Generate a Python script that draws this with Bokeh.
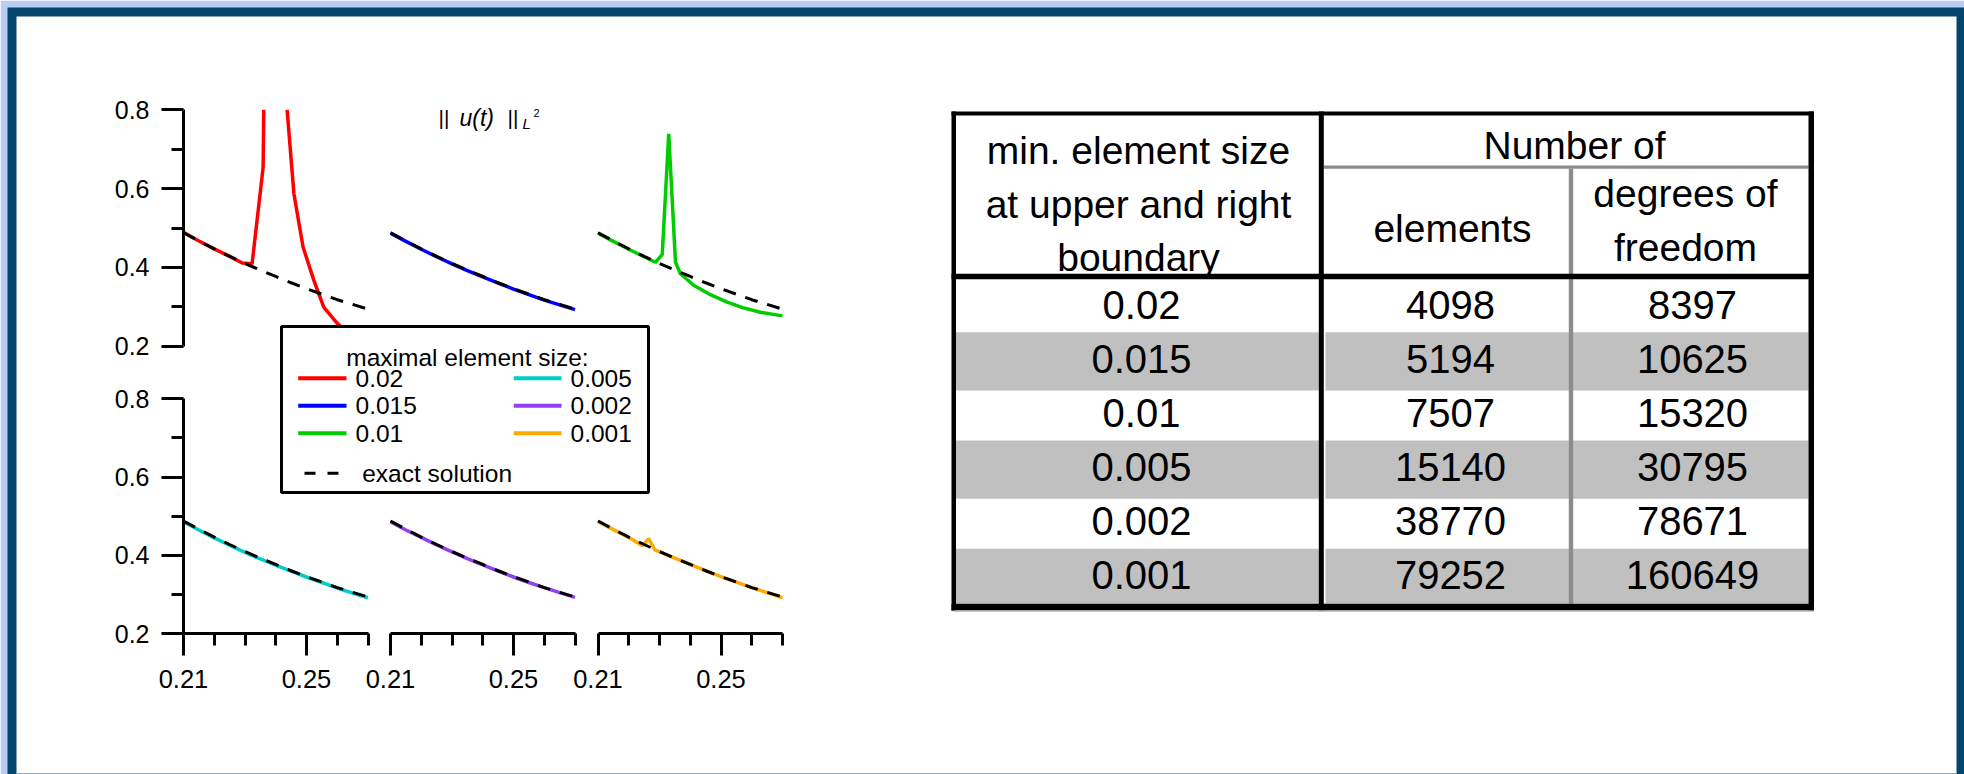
import math
from bokeh.plotting import figure
from bokeh.models import Range1d, LinearAxis, FixedTicker, BasicTickFormatter
from bokeh.core.properties import value
from bokeh.embed import file_html
from bokeh.resources import INLINE

NaN = float("nan")

# ------------------------------------------------------------------ data
# time axis of the exact solution and of the smooth numerical runs
t_exact = [0.21, 0.215, 0.22, 0.225, 0.23, 0.235, 0.24, 0.245, 0.25, 0.255, 0.26, 0.265, 0.27]
u_exact = [0.488, 0.467, 0.447, 0.428, 0.410, 0.393, 0.377, 0.361, 0.346, 0.332, 0.318, 0.306, 0.294]

# maximal element size 0.02 (spike leaves the plotted range above 0.8)
t_h020 = [0.21, 0.215, 0.22, 0.225, 0.2291, 0.2323, 0.2359, 0.2361, 0.240, 0.2437, 0.2459,
          0.2489, 0.2524, 0.2556, 0.2600, 0.265, 0.27]
u_h020 = [0.489, 0.467, 0.447, 0.428, 0.411, 0.409, 0.654, 0.800, NaN, 0.800, 0.587,
          0.451, 0.367, 0.299, 0.258, 0.225, 0.205]
# 0.015
t_h015 = [0.21, 0.215, 0.22, 0.225, 0.23, 0.235, 0.24, 0.245, 0.25, 0.255, 0.26, 0.265, 0.27]
u_h015 = [0.487, 0.466, 0.446, 0.427, 0.409, 0.392, 0.376, 0.360, 0.345, 0.331, 0.317, 0.305, 0.293]
# 0.01
t_h010 = [0.21, 0.215, 0.22, 0.225, 0.2287, 0.2309, 0.2330, 0.2352, 0.2368, 0.2412, 0.246,
          0.252, 0.257, 0.2628, 0.27]
u_h010 = [0.487, 0.466, 0.446, 0.427, 0.413, 0.433, 0.739, 0.413, 0.384, 0.354, 0.333,
          0.312, 0.298, 0.286, 0.277]
# 0.005
t_h005 = [0.21, 0.215, 0.22, 0.225, 0.23, 0.235, 0.24, 0.245, 0.25, 0.255, 0.26, 0.265, 0.27]
u_h005 = [0.486, 0.465, 0.445, 0.426, 0.408, 0.391, 0.375, 0.360, 0.345, 0.331, 0.317, 0.304, 0.292]
# 0.002
t_h002 = [0.21, 0.215, 0.22, 0.225, 0.23, 0.235, 0.24, 0.245, 0.25, 0.255, 0.26, 0.265, 0.27]
u_h002 = [0.486, 0.465, 0.446, 0.427, 0.409, 0.392, 0.376, 0.360, 0.345, 0.331, 0.318, 0.305, 0.293]
# 0.001
t_h001 = [0.21, 0.215, 0.22, 0.2245, 0.2265, 0.2285, 0.235, 0.24, 0.245, 0.25, 0.255, 0.26, 0.265, 0.27]
u_h001 = [0.487, 0.466, 0.446, 0.425, 0.443, 0.414, 0.393, 0.377, 0.361, 0.346, 0.332, 0.318, 0.305, 0.292]

series_labels = ["0.02", "0.015", "0.01", "0.005", "0.002", "0.001"]
series_colors = ["#ff0000", "#0000ff", "#00cc00", "#00cccc", "#9040f0", "#ffaa00"]
series_t = [t_h020, t_h015, t_h010, t_h005, t_h002, t_h001]
series_u = [u_h020, u_h015, u_h010, u_h005, u_h002, u_h001]

y_major = [0.2, 0.4, 0.6, 0.8]
y_minor = [0.3, 0.5, 0.7]
x_major = [0.21, 0.25]
x_minor = [0.22, 0.23, 0.24, 0.26, 0.27]

# table
min_size = ["0.02", "0.015", "0.01", "0.005", "0.002", "0.001"]
n_elements = [4098, 5194, 7507, 15140, 38770, 79252]
n_dof = [8397, 10625, 15320, 30795, 78671, 160649]

# ------------------------------------------------------------------ layout
W, H = 1964, 774
FONT = "Liberation Sans"
COL_L = [183.0, 390.0, 597.5]      # pixel of t=0.21 in each panel column
KX = 3075.0                         # px per time unit
ROW_B = [345.7, 633.3]              # pixel (from top) of u=0.2 in each row
KY = [394.0, 391.7]                 # px per u unit

p = figure(width=W, height=H, x_range=Range1d(0, W), y_range=Range1d(H, 0),
           output_backend="svg", toolbar_location=None, tools="",
           x_axis_location=None, y_axis_location=None, title=None,
           min_border=0, min_border_left=0, min_border_right=0,
           min_border_top=0, min_border_bottom=0)
p.outline_line_color = None
p.background_fill_color = "white"
p.border_fill_color = "white"
p.grid.visible = False

xr = {}
for i, L in enumerate(COL_L):
    s = 0.21 - L / KX
    xr[f"c{i}"] = Range1d(s, s + W / KX)
yr = {}
for r in range(2):
    yr[f"r{r}"] = Range1d(0.2 + (ROW_B[r] - H) / KY[r], 0.2 + ROW_B[r] / KY[r])
p.extra_x_ranges = xr
p.extra_y_ranges = yr

# page frame
p.quad(left=[0], right=[W], top=[0], bottom=[H], fill_color="#b9cdf4", line_color=None)
p.quad(left=[7], right=[W], top=[7], bottom=[H], fill_color="#03466b", line_color=None)
p.quad(left=[16], right=[1956], top=[16], bottom=[H], fill_color="white", line_color=None)
p.quad(left=[16], right=[1956], top=[772.5], bottom=[H], fill_color="#8ea8ba", line_color=None)

# ------------------------------------------------------------------ table
row_edges = [279.0, 331.7, 390.0, 440.0, 498.3, 548.3, 603.3]
gl, gr = [], []
gt, gb = [], []
for k in range(6):
    if k % 2 == 1:
        for (a, b) in [(955.5, 1318.3), (1325.0, 1808.0)]:
            gl.append(a); gr.append(b); gt.append(row_edges[k]); gb.append(row_edges[k + 1])
p.quad(left=gl, right=gr, top=gt, bottom=gb, fill_color="#c0c0c0", line_color=None)

# gray inner rules
p.quad(left=[1323.3, 1568.3], right=[1808.0, 1572.7], top=[165.0, 168.3], bottom=[168.3, 603.3],
       fill_color="#8c8c8c", line_color=None)
# black rules
bl = [951.0, 951.0, 1808.0, 951.0, 951.0, 1318.3]
br = [955.5, 1813.5, 1813.5, 1813.5, 1813.5, 1323.3]
bt = [111.0, 111.0, 111.0, 603.3, 273.3, 111.0]
bb = [610.0, 115.0, 610.0, 610.0, 278.7, 610.0]
p.quad(left=bl, right=br, top=bt, bottom=bb, fill_color="black", line_color=None)
p.quad(left=[953.0], right=[1813.5], top=[610.0], bottom=[611.5], fill_color="#c8c8c8", line_color=None)

hdr_text = ["min. element size", "at upper and right", "boundary", "Number of",
            "elements", "degrees of", "freedom"]
hdr_x = [1138, 1138, 1138, 1574, 1452, 1685, 1685]
hdr_y = [150, 204, 257, 145, 228, 193, 247]
p.text(x=hdr_x, y=hdr_y, text=hdr_text, text_font=value(FONT), text_font_size=value("39px"),
       text_align="center", text_baseline="alphabetic", text_color="black")

row_y = [304 + 54 * k for k in range(6)]
cells_text = min_size + [str(v) for v in n_elements] + [str(v) for v in n_dof]
cells_x = [1141] * 6 + [1450] * 6 + [1692] * 6
cells_y = row_y * 3
p.text(x=cells_x, y=cells_y, text=cells_text, text_font=value(FONT), text_font_size=value("40px"),
       text_align="center", text_baseline="middle", text_color="black")

# ------------------------------------------------------------------ panels
panel_pos = [(0, 0), (1, 0), (2, 0), (0, 1), (1, 1), (2, 1)]
for t, u, col, (c, r) in zip(series_t, series_u, series_colors, panel_pos):
    p.line(t, u, x_range_name=f"c{c}", y_range_name=f"r{r}", line_color=col, line_width=3.5)
    p.line(t_exact, u_exact, x_range_name=f"c{c}", y_range_name=f"r{r}",
           line_color="black", line_width=3, line_dash="13 10")


def style_axis(ax, size, standoff):
    ax.axis_line_width = 3
    ax.axis_line_color = "black"
    ax.major_tick_line_width = 3
    ax.minor_tick_line_width = 3
    ax.major_tick_line_color = "black"
    ax.minor_tick_line_color = "black"
    ax.major_tick_in = 0
    ax.major_tick_out = 22
    ax.minor_tick_in = 0
    ax.minor_tick_out = 12
    ax.major_label_text_font = FONT
    ax.major_label_text_font_size = size
    ax.major_label_text_color = "black"
    ax.major_label_standoff = standoff


for r in range(2):
    ax = LinearAxis(x_range_name="c0", y_range_name=f"r{r}", fixed_location=0.21, bounds=(0.2, 0.8),
                    ticker=FixedTicker(ticks=y_major, minor_ticks=y_minor),
                    formatter=BasicTickFormatter(precision=1))
    style_axis(ax, "25px", 12)
    p.add_layout(ax, "left")

for c in range(3):
    ax = LinearAxis(x_range_name=f"c{c}", y_range_name="r1", fixed_location=0.2, bounds=(0.21, 0.27),
                    ticker=FixedTicker(ticks=x_major, minor_ticks=x_minor),
                    formatter=BasicTickFormatter(precision=2))
    style_axis(ax, "25.5px", 14)
    p.add_layout(ax, "below")

# title  || u(t) ||_{L^2}
p.text(x=[438, 507], y=[117, 117], text=["||", "||"], text_font=value(FONT),
       text_font_size=value("21px"), text_baseline="alphabetic", text_color="black")
p.text(x=[459], y=[117], text=["u(t)"], text_font=value(FONT), text_font_style="italic",
       text_font_size=value("23px"), text_baseline="alphabetic", text_color="black")
p.text(x=[522], y=[123], text=["L"], text_font=value(FONT), text_font_style="italic",
       text_font_size=value("15px"), text_baseline="alphabetic", text_color="black")
p.text(x=[533], y=[112], text=["2"], text_font=value(FONT),
       text_font_size=value("11px"), text_baseline="alphabetic", text_color="black")

# ------------------------------------------------------------------ legend
p.quad(left=[281], right=[648], top=[326], bottom=[492], fill_color="white",
       line_color="black", line_width=3)
p.text(x=[467], y=[356.7], text=["maximal element size:"], text_font=value(FONT),
       text_font_size=value("24.5px"), text_align="center", text_baseline="alphabetic",
       text_color="black")
leg_rows = [377.7, 405.3, 432.7]
lx0 = [297.7, 513.3]
lx1 = [346.0, 561.0]
ltx = [355.0, 570.0]
sx0, sx1, sy, tx, ty = [], [], [], [], []
for k in range(6):
    cc, rr = divmod(k, 3)
    sx0.append(lx0[cc]); sx1.append(lx1[cc]); sy.append(leg_rows[rr])
    tx.append(ltx[cc]); ty.append(leg_rows[rr])
p.segment(x0=sx0, y0=sy, x1=sx1, y1=sy, line_color=series_colors, line_width=4)
p.text(x=tx, y=ty, text=series_labels, text_font=value(FONT), text_font_size=value("24.5px"),
       text_baseline="middle", text_color="black")
p.segment(x0=[304], y0=[472.7], x1=[339], y1=[472.7], line_color="black", line_width=3,
          line_dash="11 12")
p.text(x=[361.7], y=[472.7], text=["exact solution"], text_font=value(FONT),
       text_font_size=value("24.5px"), text_baseline="middle", text_color="black")

open("out.html", "w").write(file_html(p, INLINE))
